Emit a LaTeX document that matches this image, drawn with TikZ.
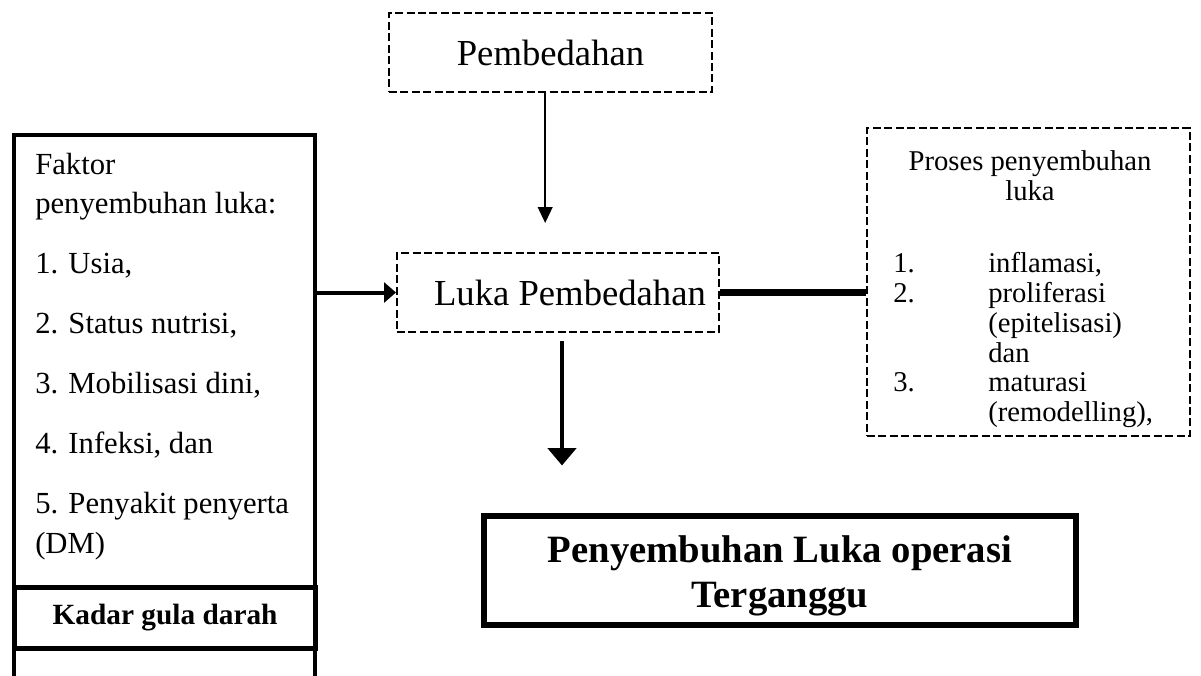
\documentclass[tikz,border=0pt]{standalone}
\usepackage{fontspec}
\setmainfont{Liberation Serif}
\usetikzlibrary{arrows.meta}
\newcommand{\nomor}[1]{\makebox[71.25pt][l]{#1}}

\begin{document}
\begin{tikzpicture}[x=0.75pt, y=-0.75pt,
    dashbox/.style={draw, line width=1.5pt, dash pattern=on 6pt off 2.6pt, inner sep=0pt},
    solidbox/.style={draw, line width=3.2pt, inner sep=0pt},
    bigtext/.style={font=\fontsize{27.5}{33}\selectfont},
    thinarrow/.style={-{Triangle[length=12pt, width=11pt]}, line width=1.5pt},
    sidearrow/.style={-{Triangle[length=9pt, width=15pt]}, line width=3pt},
    downarrow/.style={-{Triangle[length=13pt, width=21pt]}, line width=3.6pt}]
    \useasboundingbox (0,0) rectangle (1201,675);
    \clip (0,0) rectangle (1201,675);

      \node[dashbox, bigtext, minimum width=242.25pt, minimum height=59.25pt] (pemb) at (550.5,52.5) {Pembedahan};
      \node[dashbox, bigtext, minimum width=241.5pt, minimum height=59.25pt] (luka) at (558,292.5) {\hspace*{18pt}Luka Pembedahan};
      \node[dashbox, minimum width=242.25pt, minimum height=231pt] (proses) at (1028.5,282) {};
      \node[font=\fontsize{21.5}{22.5}\selectfont, align=center] (prosesjudul) at (1030,176) {Proses penyembuhan\\luka};
      \node[font=\fontsize{21.5}{22.4}\selectfont, align=left, anchor=north west, inner sep=0pt] (prosesdaftar) at (893,252)
        {\nomor{1.}inflamasi,\\ \nomor{2.}proliferasi\\ \nomor{}(epitelisasi)\\ \nomor{}dan\\ \nomor{3.}maturasi\\ \nomor{}(remodelling),};

      \node[solidbox, minimum width=225.75pt, minimum height=450pt, anchor=north west] (faktor) at (12,133) {};
      \node[font=\fontsize{23}{29.5}\selectfont, align=left, anchor=north west, inner sep=0pt] (faktorteks) at (35,153)
        {Faktor\\penyembuhan luka:\\[15.5pt] 1. Usia,\\[15.5pt] 2. Status nutrisi,\\[15.5pt] 3. Mobilisasi dini,\\[15.5pt]
         4. Infeksi, dan\\[15.5pt] 5. Penyakit penyerta\\(DM)};
      \node[solidbox, line width=3.8pt, minimum width=225.75pt, minimum height=45.75pt, anchor=north west,
        font=\bfseries\fontsize{22}{26}\selectfont] (kadar) at (12,585) {Kadar gula darah};

      \node[solidbox, line width=3.8pt, minimum width=444pt, minimum height=81.75pt, align=center,
        font=\bfseries\fontsize{29}{33.5}\selectfont] (hasil) at (780,570.5) {\rule{0pt}{28pt}Penyembuhan Luka operasi\\Terganggu};

      \draw[thinarrow, shorten >=21.75pt] ([xshift=-4pt]pemb.south) -- ([xshift=-4pt]pemb.south |- luka.north);
      \draw[sidearrow] (faktor.east |- luka) -- (luka);
      \draw[line width=5pt] (luka) -- (luka -| proses.west);
      \draw[downarrow, shorten <=6pt, shorten >=36pt] ([xshift=3pt]luka.south) -- ([xshift=3pt]luka.south |- hasil.north);

\end{tikzpicture}
\end{document}
